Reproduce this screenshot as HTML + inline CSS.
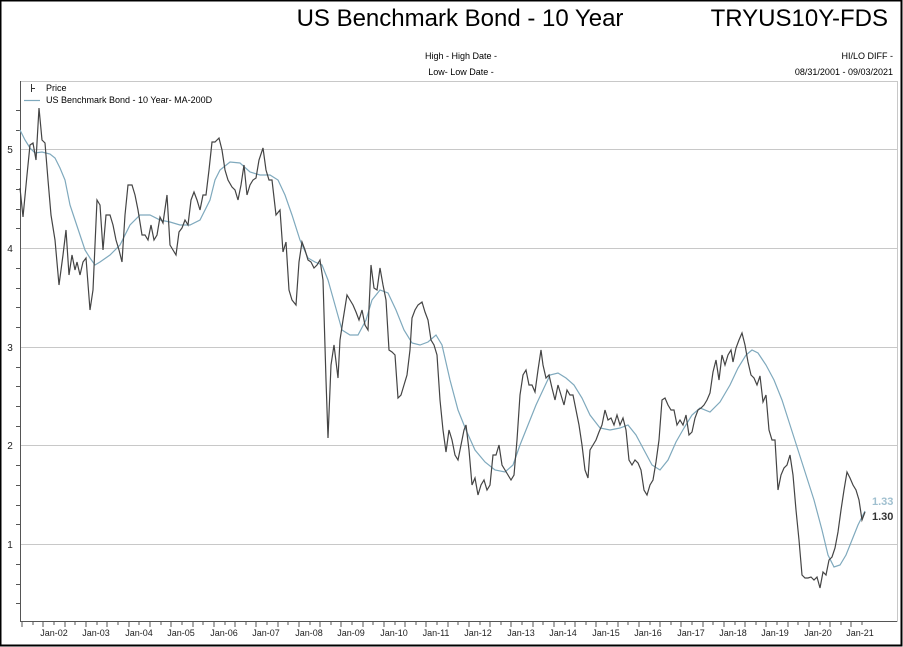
<!DOCTYPE html>
<html><head><meta charset="utf-8"><style>
html,body{margin:0;padding:0;background:#fff;}
svg{display:block;font-family:"Liberation Sans",Arial,sans-serif;}
</style></head><body>
<svg width="903" height="647" viewBox="0 0 903 647" xmlns="http://www.w3.org/2000/svg">
<rect x="0.5" y="0.5" width="901" height="645" fill="#fff" stroke="#000" stroke-width="2"/>
<text x="460" y="26" font-size="24" text-anchor="middle" fill="#000">US Benchmark Bond - 10 Year</text>
<text x="888" y="26" font-size="24" text-anchor="end" fill="#000">TRYUS10Y-FDS</text>
<text x="461" y="59" font-size="9" text-anchor="middle">High - High Date -</text>
<text x="461" y="75" font-size="9" text-anchor="middle">Low- Low Date -</text>
<text x="893" y="59" font-size="9" text-anchor="end">HI/LO DIFF -</text>
<text x="893" y="75" font-size="9" text-anchor="end">08/31/2001 - 09/03/2021</text>
<rect x="20.5" y="81.5" width="877" height="540" fill="none" stroke="#c8c8c8"/>
<g stroke="#c8c8c8" stroke-width="1">
<line x1="20" y1="149.5" x2="897" y2="149.5"/><line x1="20" y1="248.5" x2="897" y2="248.5"/>
<line x1="20" y1="347.5" x2="897" y2="347.5"/><line x1="20" y1="445.5" x2="897" y2="445.5"/>
<line x1="20" y1="544.5" x2="897" y2="544.5"/>
</g>
<line x1="20.5" y1="81" x2="20.5" y2="622" stroke="#555"/>
<line x1="20" y1="621.5" x2="897" y2="621.5" stroke="#555"/>
<g stroke="#555">
<line x1="16" y1="110.5" x2="20" y2="110.5"/><line x1="16" y1="130.5" x2="20" y2="130.5"/><line x1="16" y1="169.5" x2="20" y2="169.5"/><line x1="16" y1="189.5" x2="20" y2="189.5"/><line x1="16" y1="209.5" x2="20" y2="209.5"/><line x1="16" y1="228.5" x2="20" y2="228.5"/><line x1="16" y1="268.5" x2="20" y2="268.5"/><line x1="16" y1="288.5" x2="20" y2="288.5"/><line x1="16" y1="307.5" x2="20" y2="307.5"/><line x1="16" y1="327.5" x2="20" y2="327.5"/><line x1="16" y1="367.5" x2="20" y2="367.5"/><line x1="16" y1="386.5" x2="20" y2="386.5"/><line x1="16" y1="406.5" x2="20" y2="406.5"/><line x1="16" y1="426.5" x2="20" y2="426.5"/><line x1="16" y1="465.5" x2="20" y2="465.5"/><line x1="16" y1="485.5" x2="20" y2="485.5"/><line x1="16" y1="505.5" x2="20" y2="505.5"/><line x1="16" y1="524.5" x2="20" y2="524.5"/><line x1="16" y1="564.5" x2="20" y2="564.5"/><line x1="16" y1="584.5" x2="20" y2="584.5"/><line x1="16" y1="603.5" x2="20" y2="603.5"/>
</g>
<g font-size="10" fill="#222" text-anchor="middle">
<text x="10" y="153">5</text><text x="10" y="252">4</text><text x="10" y="351">3</text><text x="10" y="449">2</text><text x="10" y="548">1</text>
</g>
<g font-size="9" fill="#222" text-anchor="middle">
<text x="54" y="636">Jan-02</text><text x="96" y="636">Jan-03</text><text x="139" y="636">Jan-04</text><text x="181" y="636">Jan-05</text><text x="224" y="636">Jan-06</text><text x="266" y="636">Jan-07</text><text x="309" y="636">Jan-08</text><text x="351" y="636">Jan-09</text><text x="394" y="636">Jan-10</text><text x="436" y="636">Jan-11</text><text x="478" y="636">Jan-12</text><text x="521" y="636">Jan-13</text><text x="563" y="636">Jan-14</text><text x="606" y="636">Jan-15</text><text x="648" y="636">Jan-16</text><text x="691" y="636">Jan-17</text><text x="733" y="636">Jan-18</text><text x="775" y="636">Jan-19</text><text x="818" y="636">Jan-20</text><text x="860" y="636">Jan-21</text>
</g>
<path d="M22,622v5M33,622v3M43,622v5M54,622v3M65,622v5M75,622v3M86,622v5M97,622v3M107,622v5M118,622v3M129,622v5M139,622v3M150,622v5M161,622v3M171,622v5M182,622v3M193,622v5M203,622v3M214,622v5M225,622v3M235,622v5M246,622v3M256,622v5M267,622v3M278,622v5M288,622v3M299,622v5M310,622v3M320,622v5M331,622v3M341,622v5M352,622v3M363,622v5M373,622v3M384,622v5M395,622v3M405,622v5M416,622v3M426,622v5M437,622v3M448,622v5M458,622v3M469,622v5M480,622v3M490,622v5M501,622v3M511,622v5M522,622v3M533,622v5M543,622v3M554,622v5M565,622v3M575,622v5M586,622v3M596,622v5M607,622v3M618,622v5M628,622v3M639,622v5M650,622v3M660,622v5M671,622v3M681,622v5M692,622v3M703,622v5M713,622v3M724,622v5M735,622v3M745,622v5M756,622v3M766,622v5M777,622v3M788,622v5M798,622v3M809,622v5M820,622v3M830,622v5M841,622v3M851,622v5M862,622v3" stroke="#555" fill="none"/>
<polyline fill="none" stroke="#7fa9bd" stroke-width="1.2" points="20,130 25,140 30,148 35,153 42,152 50,154 55,158 60,168 65,180 70,205 75,220 80,235 85,250 90,258 95,265 100,262 110,255 120,245 130,225 140,215 150,215 160,220 170,222 180,225 190,225 200,220 210,200 215,180 220,170 230,162 240,163 250,172 260,175 270,175 278,180 285,195 292,215 300,240 308,258 315,262 322,265 328,280 335,305 342,330 350,335 358,335 366,320 372,300 380,290 388,293 396,310 404,330 412,343 420,345 428,342 436,335 442,345 450,380 458,410 466,430 475,450 485,462 495,470 505,472 513,465 520,445 528,425 536,405 543,390 550,375 558,373 566,378 574,385 582,398 590,415 600,428 610,430 620,428 628,425 636,435 644,450 652,465 660,470 668,460 676,442 684,428 692,415 700,408 710,412 720,402 730,385 738,368 746,355 752,350 758,353 766,365 774,380 782,400 790,425 798,450 806,475 814,500 822,530 828,555 834,567 840,565 846,555 852,540 858,525 865,511"/>
<polyline fill="none" stroke="#444" stroke-width="1.2" points="20,188 23,217 27,175 30,145 33,143 36,160 39,108 42,140 45,143 48,180 51,215 55,240 59,285 63,255 66,230 69,275 72,255 75,270 77,262 80,275 83,262 86,258 90,310 93,290 97,200 100,205 103,250 106,215 110,215 113,225 116,240 119,250 122,262 125,215 128,185 132,185 135,195 138,210 142,235 145,235 148,240 151,225 154,240 157,235 160,217 163,223 167,195 170,245 173,250 176,255 179,232 182,228 185,220 188,225 191,200 194,192 197,200 200,210 203,195 206,195 209,170 212,142 215,142 219,138 222,150 225,170 228,180 232,187 235,190 238,200 241,185 244,165 247,195 250,185 253,180 256,178 259,160 263,148 266,170 269,180 272,180 276,215 280,210 283,252 286,242 289,290 292,300 296,305 299,262 302,242 305,250 308,260 311,262 314,268 317,265 320,260 323,280 326,380 328,438 331,365 334,345 338,378 340,340 343,320 347,295 350,300 353,305 356,312 359,320 362,310 365,325 368,330 371,265 374,288 377,290 380,268 383,285 386,300 389,350 392,352 395,355 398,398 401,395 404,385 407,375 410,350 412,318 415,310 418,305 422,302 425,312 428,320 431,340 434,345 437,355 440,400 443,430 446,452 449,430 452,440 455,455 458,460 461,445 464,430 466,425 469,450 472,485 475,478 478,495 481,485 484,480 487,490 490,485 493,455 496,455 499,445 502,465 505,470 508,475 511,480 514,475 517,440 520,395 523,375 526,370 529,385 532,385 535,392 538,370 541,350 543,365 546,378 549,375 552,388 555,400 558,385 561,395 564,405 567,390 570,395 573,395 576,410 579,425 582,445 585,470 588,478 590,450 593,445 596,440 599,432 602,425 605,410 608,420 611,418 614,425 617,415 620,425 623,418 626,430 629,460 632,465 635,460 638,463 641,470 644,490 647,495 650,485 653,480 656,462 659,440 662,400 665,398 668,405 671,410 674,410 677,425 680,420 683,425 686,415 689,435 692,432 695,418 698,410 701,408 704,405 707,400 710,393 713,372 716,360 719,380 722,355 725,365 728,355 731,350 733,362 736,348 739,340 742,333 745,345 748,362 751,375 754,378 757,385 760,376 763,402 766,395 769,430 772,440 775,440 778,490 781,475 784,468 787,465 790,455 793,475 796,510 799,540 802,575 805,578 808,578 811,577 814,580 817,577 820,588 823,572 826,575 829,560 832,557 835,548 838,532 841,510 844,490 847,472 850,478 853,485 856,490 859,500 862,520 865,512"/>
<text x="872" y="505" font-size="11" font-weight="bold" fill="#9fbfcf">1.33</text>
<text x="872" y="520" font-size="11" font-weight="bold" fill="#333">1.30</text>
<line x1="31.5" y1="84" x2="31.5" y2="92" stroke="#333"/><line x1="31" y1="88.5" x2="35" y2="88.5" stroke="#333"/>
<text x="46" y="91" font-size="9" fill="#000">Price</text>
<line x1="24" y1="100.5" x2="40" y2="100.5" stroke="#7fa9bd" stroke-width="1.2"/>
<text x="46" y="103" font-size="9" fill="#000">US Benchmark Bond - 10 Year- MA-200D</text>
</svg>
</body></html>
